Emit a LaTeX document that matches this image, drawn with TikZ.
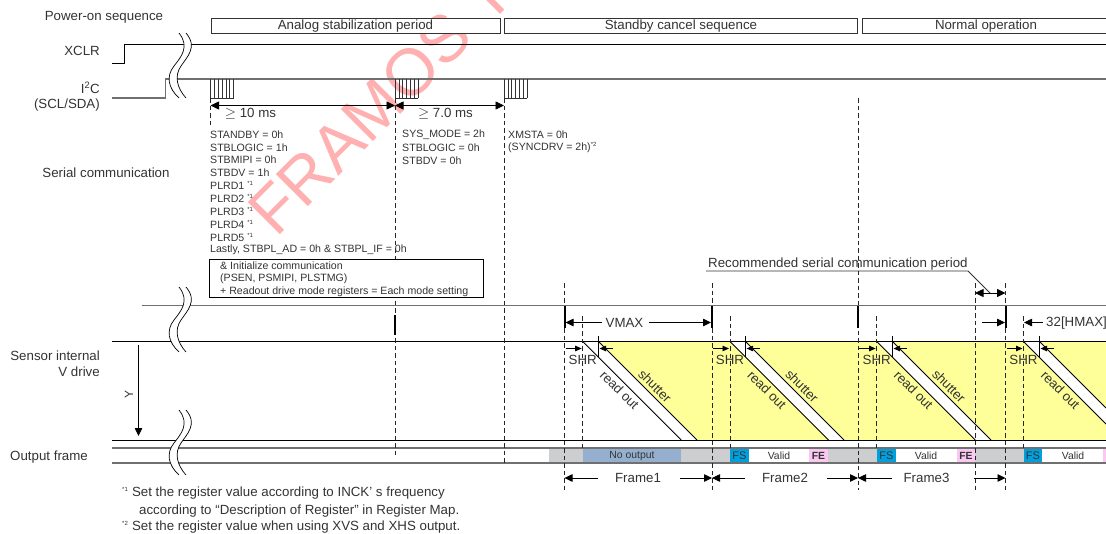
\documentclass[tikz,border=0pt]{standalone}
\usepackage{fontspec}
\setmainfont{Liberation Sans}
\usetikzlibrary{arrows.meta,calc}
\definecolor{ink}{HTML}{333333}
\definecolor{wm}{HTML}{FFB0B0}
\definecolor{yel}{HTML}{FFFF99}
\definecolor{grayb}{HTML}{CCCECF}
\definecolor{noout}{HTML}{95B0CF}
\definecolor{fsc}{HTML}{00A0DC}
\definecolor{fec}{HTML}{FBC8F2}
\definecolor{gline}{HTML}{707070}
\tikzset{
 blk/.style={black,line width=.9pt},
 gl/.style={gline,line width=1.6pt},
 dsh/.style={black!85,line width=.9pt,dash pattern=on 4.5pt off 3pt},
 slant/.style={black,line width=.9pt},
 tiny arrow/.style={black,line width=.8pt,-{Triangle[length=6.5pt,width=5.5pt]}},
 big arrow/.style={black,line width=.8pt,{Triangle[length=8.5pt,width=8pt]}-{Triangle[length=8.5pt,width=8pt]}},
 one arrow/.style={black,line width=.8pt,-{Triangle[length=8pt,width=7.5pt]}},
 lab/.style={font=\fontsize{13.3}{15}\selectfont,text=ink,inner sep=0pt},
 reg/.style={font=\fontsize{10.6}{12}\selectfont,text=ink,inner sep=0pt,anchor=west},
 note/.style={font=\fontsize{13.3}{15}\selectfont,text=ink,inner sep=0pt,anchor=west},
 topbox/.style={draw=ink,line width=.9pt,fill=white,inner sep=0pt,font=\fontsize{13.3}{15}\selectfont,text=ink},
 cell/.style={inner sep=0pt,font=\fontsize{10.4}{12}\selectfont,text=ink},
 slabel/.style={inner sep=0pt,rotate=-45,font=\fontsize{13.2}{15}\selectfont,text=ink},
 wave/.style={black,line width=.7pt},
}
\newcommand{\brk}[2]{% x, top y
 \fill[white] (#1+3,#2) .. controls (#1+15,#2+14) and (#1+4,#2+24) .. (#1-2,#2+33)
   .. controls (#1-9,#2+43) and (#1-6,#2+55) .. (#1+3,#2+65) -- (#1-4,#2+65)
   .. controls (#1-15,#2+55) and (#1-17,#2+43) .. (#1-9,#2+33)
   .. controls (#1-2,#2+24) and (#1+7,#2+14) .. (#1-4,#2) -- cycle;
 \draw[wave] (#1-4,#2) .. controls (#1+7,#2+14) and (#1-2,#2+24) .. (#1-9,#2+33)
   .. controls (#1-17,#2+43) and (#1-15,#2+55) .. (#1-4,#2+65);
 \draw[wave] (#1+3,#2) .. controls (#1+15,#2+14) and (#1+4,#2+24) .. (#1-2,#2+33)
   .. controls (#1-9,#2+43) and (#1-6,#2+55) .. (#1+3,#2+65);
}
\newcommand{\burst}[1]{%
 \foreach \k in {0,...,6} \draw[black!80,line width=.6pt] (#1+\k*3.83,79) -- (#1+\k*3.83,98);
 \draw[black!80,line width=.6pt] (#1,98) -- (#1+23,98);
}
\newcommand{\fnm}[1]{\textsuperscript{\fontsize{6}{6}\selectfont *#1}}
\begin{document}
\begin{tikzpicture}[x=1pt,y=-1pt]
\useasboundingbox (0,0) rectangle (1106,533);
% watermark
\begin{scope}
\clip (0,0) rectangle (1106,533);
\node[text=wm,font=\fontsize{66}{70}\selectfont,rotate=45,inner sep=0pt,anchor=base west] (wmark) at (276,239) {FRAMOS T};
\end{scope}
% yellow band
\fill[yel] (598.5,341.5) -- (1106,341.5) -- (1106,440) -- (696.5,440) -- cycle;
\foreach \a/\b in {582.7/598.5,730/745.6,876.7/892.5}{
 \fill[white] (\a,341.5) -- (\b,341.5) -- (\b+98.5,440) -- (\a+98.5,440) -- cycle;
 \draw[slant] (\a,341.5) -- (\a+98.5,440);
 \draw[slant] (\b,341.5) -- (\b+98.5,440);
}
\fill[white] (1023.5,341.5) -- (1039.5,341.5) -- (1106,408) -- (1106,424) -- cycle;
\draw[slant] (1023.5,341.5) -- (1106,424);
\draw[slant] (1039.5,341.5) -- (1106,408);
% frame strip
\foreach \a/\b/\c in {549/582.7/grayb,582.7/681/noout,681/730/grayb,730/749/fsc,809/828/fec,828/877/grayb,877/896/fsc,957/975/fec,975/1023.5/grayb,1023.5/1042/fsc,1103/1106/fec}
 \fill[\c] (\a,448) rectangle (\b,463);
\node[cell] (nout) at (632,456) {No output};
\node[cell,font=\fontsize{11}{12}\selectfont] (fs1) at (739.5,456) {FS};
\node[cell] (v1) at (779,456) {Valid};
\node[cell,font=\fontsize{10.4}{12}\selectfont\bfseries] (fe1) at (818.5,456) {FE};
\node[cell,font=\fontsize{11}{12}\selectfont] (fs2) at (886.5,456) {FS};
\node[cell] (v2) at (926,456) {Valid};
\node[cell,font=\fontsize{10.4}{12}\selectfont\bfseries] (fe2) at (966,456) {FE};
\node[cell,font=\fontsize{11}{12}\selectfont] (fs3) at (1033,456) {FS};
\node[cell] (v3) at (1073,456) {Valid};
% horizontal rails
\draw[blk] (112,63) -- (124,63) -- (124,44.5) -- (1106,44.5);
\draw[gl] (112,98) -- (165.5,98) -- (165.5,79) -- (1106,79);
\draw[gl] (142,305.5) -- (1106,305.5);
\draw[blk] (112,341.5) -- (1106,341.5);
\draw[blk] (112,440) -- (1106,440);
\draw[gl] (112,448) -- (1106,448);
\draw[gl] (112,463) -- (1106,463);
% breaks
\brk{183}{33}
\brk{183}{287}
\brk{183}{410}
% top boxes
\node[topbox,minimum width=289pt,minimum height=15pt,anchor=north west] (analog) at (210.5,18) {Analog stabilization period};
\node[topbox,minimum width=353pt,minimum height=15pt,anchor=north west] (standby) at (504,18) {Standby cancel sequence};
\draw[ink,line width=.9pt] (1106,18) -- (862,18) -- (862,33) -- (1106,33);
\node[lab] (normal) at (986,26) {Normal operation};
% bursts
\burst{210.5}
\burst{395}
\burst{504}
% left labels
\node[lab] (l1) at (104,17.5) {Power-on sequence};
\node[lab,anchor=east] (l2) at (100,51) {XCLR};
\node[lab,anchor=east] (l3) at (100,88) {I\textsuperscript{2}C};
\node[lab,anchor=east] (l4) at (100,105) {(SCL/SDA)};
\node[lab] (l5) at (106,172.5) {Serial communication};
\node[lab,anchor=east] (l6) at (100,356) {Sensor internal};
\node[lab,anchor=east] (l7) at (100,371.5) {V drive};
\node[lab,anchor=west] (l8) at (10,457) {Output frame};
% dashed
\coordinate (d1a) at (210.5,98); \coordinate (d1b) at (210.5,125);
\draw[dsh] (d1a) -- (d1b);
\draw[dsh] (395,98) -- (395,458);
\draw[dsh] (504,98) -- (504,465);
\draw[dsh] (858,98) -- (858,490);
\foreach \x in {564.5,712,975,1005.5} \draw[dsh] (\x,283) -- (\x,490);
\foreach \x in {582.7,730,876.7,1023.5} \draw[dsh] (\x,316) -- (\x,450);
\foreach \x in {598.5,745.6,892.5,1039.5} \draw[black,line width=.8pt] (\x,336) -- (\x,357);
% thick marks
\foreach \x in {564.5,712,858,1005.5} \draw[black,line width=2pt] (\x,305.5) -- (\x,328);
\draw[black,line width=1.2pt] (395,315) -- (395,335);
% timing arrows
\draw[big arrow] (210.5,105.5) -- (395,105.5);
\draw[big arrow] (395,105.5) -- (504,105.5);
\node[lab] (t1) at (250.5,113.5) {$\geq$ 10 ms};
\node[lab] (t2) at (445.5,113.5) {$\geq$ 7.0 ms};
% registers
\foreach \t [count=\i from 0] in {STANDBY = 0h,STBLOGIC = 1h,STBMIPI = 0h,STBDV = 1h,PLRD1 \fnm{1},PLRD2 \fnm{1},PLRD3 \fnm{1},PLRD4 \fnm{1},PLRD5 \fnm{1},{Lastly, STBPL\_AD = 0h \& STBPL\_IF = 0h}}
 \node[reg] (r\i) at (210,134.5+\i*12.85) {\t};
\foreach \t [count=\i from 0] in {SYS\_MODE = 2h,STBLOGIC = 0h,STBDV = 0h}
 \node[reg] (s\i) at (402,134.5+\i*13) {\t};
\node[reg] (x0) at (508,134.5) {XMSTA = 0h};
\node[reg] (x1) at (508,147.5) {(SYNCDRV = 2h)\fnm{2}};
\draw[black,line width=.9pt,fill=white] (209.5,259.5) rectangle (483,297.5);
\node[reg] (b1) at (220,265.5) {\& Initialize communication};
\node[reg] (b2) at (220,278.5) {(PSEN, PSMIPI, PLSTMG)};
\node[reg] (b3) at (220,291.5) {+ Readout drive mode registers = Each mode setting};
% recommended
\node[lab,anchor=west] (rec) at (708,264.5) {Recommended serial communication period};
\coordinate (ru) at (706,271); \coordinate (rk) at (968,271); \coordinate (rt) at (990,293);
\draw[ink,line width=.9pt] (ru) -- (rk) -- (rt);
\draw[big arrow] (975,293) -- (1005.5,293);
% VMAX
\node[lab] (vm) at (624.5,323) {VMAX};
\draw[one arrow] (602,322.5) -- (565.5,322.5);
\draw[one arrow] (649,322.5) -- (711,322.5);
\draw[one arrow] (982,322.5) -- (1005,322.5);
\draw[one arrow] (1043,322.5) -- (1024,322.5);
\node[lab,anchor=west] (hm) at (1046,323.5) {32[HMAX]};
% SHR
\foreach \x/\a/\b in {564.5/582.7/598.5,712/730/745.6,858/876.7/892.5,1005.5/1023.5/1039.5}{
 \draw[tiny arrow] (\x+1,348.5) -- (\a-1,348.5);
 \draw[tiny arrow] (\b+14,348.5) -- (\b+1,348.5);
 \node[lab] at (\a,360) {SHR};
}
% slant labels
\foreach \a in {582.7,730,876.7,1023.5}
 \node[slabel] at (\a+37,390) {read out};
\foreach \a in {598.5,745.6,892.5}
 \node[slabel] at (\a+56.5,386) {shutter};
% Y arrow
\draw[one arrow] (138.5,345) -- (138.5,436);
\node[cell,rotate=90,font=\fontsize{12}{14}\selectfont] (yl) at (129,394) {Y};
% frame dims
\foreach \l/\a/\n/\c/\r/\b in {564.5/598/Frame1/638/680/712,712/745/Frame2/785/827/858,858/892/Frame3/926.5/974/1005.5}{
 \draw[one arrow] (\a,478) -- (\l,478);
 \draw[one arrow] (\r,478) -- (\b,478);
 \node[lab] at (\c,478) {\n};
}
% footnotes
\node[note] (n1) at (122,493.5) {\fnm{1} Set the register value according to INCK’ s frequency};
\node[note] (n2) at (139,511) {according to “Description of Register” in Register Map.};
\node[note] (n3) at (122,527.5) {\fnm{2} Set the register value when using XVS and XHS output.};
\end{tikzpicture}
\end{document}
